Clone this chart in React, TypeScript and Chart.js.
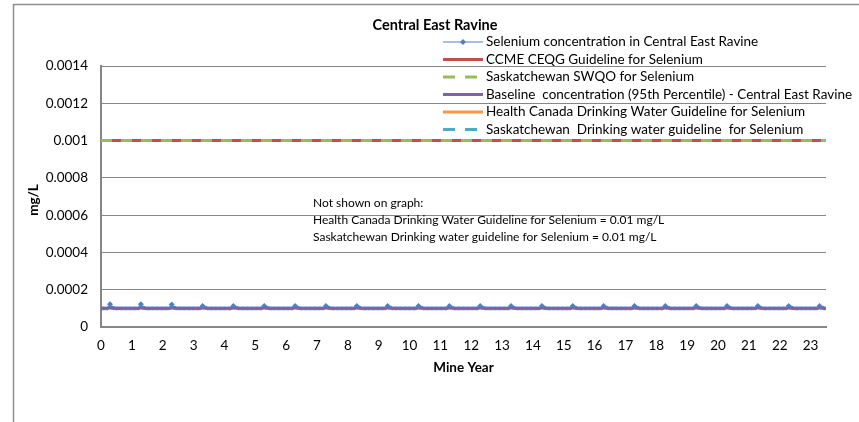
import React, { useEffect, useRef } from "react";
import { Chart, registerables } from "chart.js";

Chart.register(...registerables);

// ---- Data ----
const chartTitle = "Central East Ravine";
const xAxisTitle = "Mine Year";
const yAxisTitle = "mg/L";
const years = [0, 1, 2, 3, 4, 5, 6, 7, 8, 9, 10, 11, 12, 13, 14, 15, 16, 17, 18, 19, 20, 21, 22, 23];
// annual spike in measured selenium (mg/L), occurs ~0.29 into each year
const annualPeak = [
  0.000122, 0.000122, 0.000121, 0.000113, 0.000113, 0.000113, 0.000113, 0.000113,
  0.000113, 0.000113, 0.000113, 0.000113, 0.000113, 0.000113, 0.000113, 0.000113,
  0.000113, 0.000113, 0.000113, 0.000113, 0.000113, 0.000113, 0.000113, 0.000113,
];
// within-year profile, half-monthly samples (24 per year); peak slot replaced by annualPeak
const withinYearProfile = [
  0.0001, 0.0001, 0.0001, 0.0001, 0.0001, 0.0001, 0.000104, null, 0.000104, 0.000103,
  0.000102, 0.0001, 0.0001, 0.0001, 0.0001, 0.0001, 0.0001, 0.0001, 0.0001, 0.0001,
  0.0001, 0.0001, 0.0001, 0.0001,
];
const lastYearSamples = 13; // final partial year (to year 23.5)
const ccmeGuideline = 0.001;
const swqoGuideline = 0.001;
const baselineConc = 0.0001;
const healthCanadaGuideline = 0.01;
const saskDrinkingGuideline = 0.01;
const xMin = 0;
const xMax = 23.5;
const yTicks = [0, 0.0002, 0.0004, 0.0006, 0.0008, 0.001, 0.0012, 0.0014];

const seriesNames = [
  "Selenium concentration in Central East Ravine",
  "CCME CEQG Guideline for Selenium",
  "Saskatchewan SWQO for Selenium",
  "Baseline  concentration (95th Percentile) - Central East Ravine",
  "Health Canada Drinking Water Guideline for Selenium",
  "Saskatchewan  Drinking water guideline  for Selenium",
];
const seriesColors = ["#4F81BD", "#C0504D", "#9BBB59", "#8064A2", "#F79646", "#4BACC6"];
const noteLines = [
  "Not shown on graph:",
  "Health Canada Drinking Water Guideline for Selenium = 0.01 mg/L",
  "Saskatchewan Drinking water guideline for Selenium = 0.01 mg/L",
];

const FONT = "Lato, 'Open Sans', sans-serif";

function buildSelenium() {
  const pts: { x: number; y: number }[] = [];
  years.forEach((yr, yi) => {
    const n = yi === years.length - 1 ? lastYearSamples : withinYearProfile.length;
    for (let k = 0; k < n; k++) {
      const v = withinYearProfile[k] === null ? annualPeak[yi] : (withinYearProfile[k] as number);
      pts.push({ x: yr + k / withinYearProfile.length, y: v });
    }
  });
  return pts;
}

const flat = (v: number) => [
  { x: xMin, y: v },
  { x: xMax, y: v },
];

export default function App() {
  const ref = useRef<HTMLCanvasElement>(null);

  useEffect(() => {
    if (!ref.current) return;
    const seleniumData = buildSelenium();

    const overlay = {
      id: "overlay",
      beforeDraw(chart: any) {
        const ctx = chart.ctx;
        ctx.save();
        ctx.fillStyle = "#ffffff";
        ctx.fillRect(0, 0, chart.width, chart.height);
        ctx.strokeStyle = "#8E8E8E";
        ctx.lineWidth = 1.5;
        ctx.beginPath();
        ctx.moveTo(13.5, chart.height + 5);
        ctx.lineTo(13.5, 4.5);
        ctx.lineTo(chart.width + 5, 4.5);
        ctx.stroke();
        ctx.restore();
      },
      afterDraw(chart: any) {
        const ctx = chart.ctx;
        const area = chart.chartArea;
        ctx.save();
        ctx.fillStyle = "#000";
        // title
        ctx.font = `bold 14.5px ${FONT}`;
        ctx.textAlign = "center";
        ctx.textBaseline = "middle";
        ctx.fillText(chartTitle, 435, 25);
        // axis titles
        ctx.font = `bold 13.5px ${FONT}`;
        ctx.fillText(xAxisTitle, (area.left + area.right) / 2, 368);
        ctx.save();
        ctx.translate(34, 200);
        ctx.rotate(-Math.PI / 2);
        ctx.fillText(yAxisTitle, 0, 0);
        ctx.restore();
        // notes
        ctx.font = `12px ${FONT}`;
        ctx.textAlign = "left";
        noteLines.forEach((t, i) => ctx.fillText(t, 313, 203 + i * 17));
        // legend
        ctx.font = `13.5px ${FONT}`;
        const x0 = 443;
        const x1 = 483;
        seriesNames.forEach((name, i) => {
          const y = 42 + i * 17.5;
          ctx.strokeStyle = seriesColors[i];
          ctx.lineWidth = i === 0 ? 1 : 3;
          ctx.setLineDash(i === 2 || i === 5 ? [12, 10] : []);
          ctx.beginPath();
          ctx.moveTo(x0, y);
          ctx.lineTo(x1, y);
          ctx.stroke();
          ctx.setLineDash([]);
          if (i === 0) {
            ctx.fillStyle = seriesColors[0];
            ctx.beginPath();
            ctx.moveTo(463, y - 3);
            ctx.lineTo(466, y);
            ctx.lineTo(463, y + 3);
            ctx.lineTo(460, y);
            ctx.closePath();
            ctx.fill();
          }
          ctx.fillStyle = "#000";
          ctx.fillText(name, 486, y);
        });
        ctx.restore();
      },
    };

    const chart = new Chart(ref.current, {
      type: "line",
      data: {
        datasets: [
          {
            label: seriesNames[0],
            data: seleniumData,
            borderColor: seriesColors[0],
            backgroundColor: seriesColors[0],
            borderWidth: 1.5,
            pointStyle: "rectRot",
            pointRadius: (c: any) => (c.raw && c.raw.y > 0.00011 ? 3 : 2.2),
            pointBorderWidth: 0,
            pointBackgroundColor: seriesColors[0],
            order: 2,
          },
          {
            label: seriesNames[1],
            data: flat(ccmeGuideline),
            borderColor: seriesColors[1],
            borderWidth: 3,
            pointRadius: 0,
            order: 3,
          },
          {
            label: seriesNames[2],
            data: flat(swqoGuideline),
            borderColor: seriesColors[2],
            borderWidth: 3,
            borderDash: [11, 9],
            pointRadius: 0,
            order: 0,
          },
          {
            label: seriesNames[3],
            data: flat(baselineConc),
            borderColor: seriesColors[3],
            borderWidth: 2.5,
            pointRadius: 0,
            order: 1,
          },
          {
            label: seriesNames[4],
            data: flat(healthCanadaGuideline),
            borderColor: seriesColors[4],
            borderWidth: 3,
            pointRadius: 0,
            order: 4,
          },
          {
            label: seriesNames[5],
            data: flat(saskDrinkingGuideline),
            borderColor: seriesColors[5],
            borderWidth: 3,
            borderDash: [11, 9],
            pointRadius: 0,
            order: 4,
          },
        ],
      },
      options: {
        responsive: false,
        animation: false,
        events: [],
        layout: { padding: { left: 0, right: 33, top: 66, bottom: 45 } },
        plugins: {
          legend: { display: false },
          title: { display: false },
          tooltip: { enabled: false },
        },
        scales: {
          x: {
            type: "linear",
            min: xMin,
            max: xMax,
            afterFit: (s: any) => {
              s.height = 50;
            },
            afterBuildTicks: (s: any) => {
              s.ticks = years.map((v) => ({ value: v }));
            },
            grid: { display: false, drawTicks: false },
            border: { display: true, color: "#868686", width: 2 },
            ticks: {
              color: "#000",
              font: { family: FONT, size: 13.5 },
              padding: 11,
              maxRotation: 0,
              autoSkip: false,
              callback: (v: any) => String(v),
            },
          },
          y: {
            type: "linear",
            min: 0,
            max: 0.0014,
            afterFit: (s: any) => {
              s.width = 101;
            },
            afterBuildTicks: (s: any) => {
              s.ticks = yTicks.map((v) => ({ value: v }));
            },
            grid: { color: "#868686", lineWidth: 1, drawTicks: false },
            border: { display: true, color: "#868686", width: 2 },
            ticks: {
              color: "#000",
              font: { family: FONT, size: 13.5 },
              padding: 13,
              callback: (v: any) => String(Number(Number(v).toFixed(4))),
            },
          },
        },
      },
      plugins: [overlay],
    } as any);

    return () => chart.destroy();
  }, []);

  return (
    <div style={{ position: "fixed", left: 0, top: 0, width: 859, height: 422 }}>
      <canvas ref={ref} width={859} height={422} style={{ width: 859, height: 422, display: "block" }} />
    </div>
  );
}
